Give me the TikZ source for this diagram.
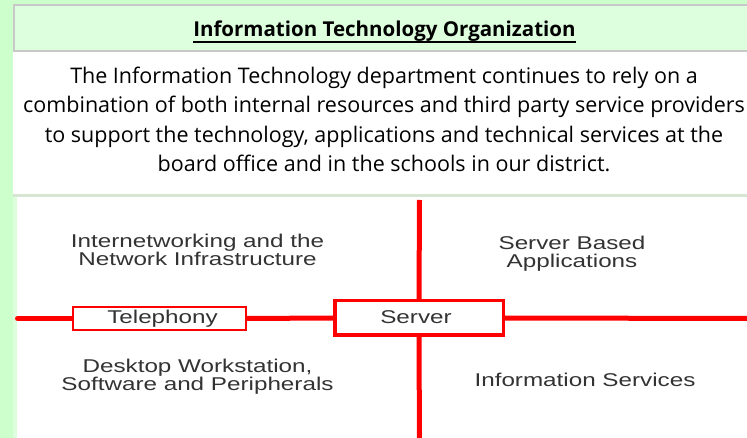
\documentclass[tikz,border=0pt]{standalone}
\usepackage{fontspec}
\setmainfont{Liberation Sans}
\newfontfamily\diafont[FakeStretch=1.31]{Liberation Sans}
\newfontfamily\comicfont{Open Sans}
\definecolor{bggreen}{HTML}{CCFFCC}
\definecolor{headgreen}{HTML}{DDFFDD}
\definecolor{headborder}{HTML}{C8C8C8}
\definecolor{sepline}{HTML}{D6E6D2}
\definecolor{striplight}{HTML}{DDFFDD}
\definecolor{linered}{HTML}{FF0000}
\definecolor{txtgrey}{HTML}{333333}
\tikzset{
  para/.style={anchor=base, inner sep=0pt, font=\comicfont\fontsize{21.5}{26}\selectfont, text=black},
  titletxt/.style={anchor=base, inner sep=0pt, font=\comicfont\bfseries\fontsize{20.5}{24}\selectfont, text=black},
  diatxt/.style={anchor=base, inner sep=0pt, font=\diafont\fontsize{18.5}{17}\selectfont, text=txtgrey},
  redline/.style={draw=linered, line width=5pt},
  bigbox/.style={draw=linered, line width=3.5pt, fill=white, minimum width=168.5pt, minimum height=34.5pt, inner sep=0pt},
  smallbox/.style={draw=linered, line width=1.6pt, fill=white, minimum width=173.5pt, minimum height=23.5pt, inner sep=0pt},
}
\begin{document}
\begin{tikzpicture}[x=1pt, y=-1pt]
\useasboundingbox (0,0) rectangle (747,438);
% background
\fill[bggreen] (0,0) rectangle (747,438);
% header
\fill[headgreen] (13,4) rectangle (760,51);
\draw[headborder, line width=2pt] (760,5) -- (14,5) -- (14,51) -- (760,51);
% paragraph area
\fill[white] (13,52) rectangle (747,194.5);
% separator
\fill[sepline] (13,194.5) rectangle (747,197);
% diagram area
\fill[striplight] (13,197) rectangle (16.5,438);
\fill[white] (16.5,197) rectangle (747,438);

% title
\node[titletxt] (title) at (384.5,37) {Information Technology Organization};
\draw[black, line width=1.5pt] ([yshift=-5pt]title.base west) -- ([yshift=-5pt]title.base east);

% paragraph
\node[para] (p1) at (384,84) {The Information Technology department continues to rely on a};
\node[para] (p2) at (384,113) {combination of both internal resources and third party service providers};
\node[para] (p3) at (384,143) {to support the technology, applications and technical services at the};
\node[para] (p4) at (384,172) {board office and in the schools in our district.};

% diagram
\coordinate (lend) at (17.5,318.5);
\coordinate (rend) at (752,318.5);
\coordinate (tend) at (419.5,200);
\coordinate (bend) at (419.5,445);
\node[bigbox] (server) at (419,318) {};
\node[smallbox] (tel) at (159.5,318.5) {};
\draw[redline, line cap=round] (lend) -- (tel.west);
\draw[redline] (tel.east) -- (server.west);
\draw[redline] (server.east) -- (rend);
\draw[redline] (tend) -- (server.north);
\draw[redline] (server.south) -- (bend);
\node[bigbox] (server2) at (419,318) {};
\node[smallbox] (tel2) at (159.5,318.5) {};
\node[diatxt] (teltxt) at (162.5,323.5) {Telephony};
\node[diatxt] (srvtxt) at (416,323.5) {Server};

\node[diatxt] (inet1) at (197.5,247.5) {Internetworking and the};
\node[diatxt] (inet2) at (197.5,266) {Network Infrastructure};
\node[diatxt] (sba1) at (572,250) {Server Based};
\node[diatxt] (sba2) at (572,268) {Applications};
\node[diatxt] (desk1) at (197.5,372) {Desktop Workstation,};
\node[diatxt] (desk2) at (197.5,390.5) {Software and Peripherals};
\node[diatxt] (info) at (585,386) {Information Services};
\end{tikzpicture}
\end{document}
